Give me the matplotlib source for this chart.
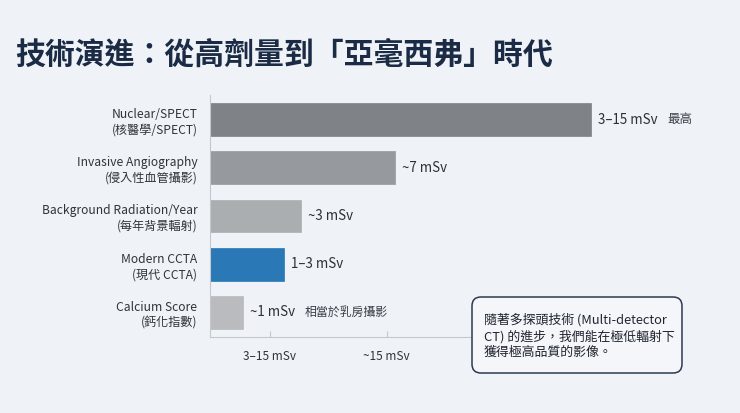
import matplotlib
matplotlib.use("Agg")
import matplotlib.pyplot as plt
from matplotlib.patches import FancyBboxPatch

plt.rcParams['font.family'] = ['Noto Sans CJK TC', 'DejaVu Sans']

# data
categories = ["Nuclear/SPECT\n(核醫學/SPECT)",
              "Invasive Angiography\n(侵入性血管攝影)",
              "Background Radiation/Year\n(每年背景輻射)",
              "Modern CCTA\n(現代 CCTA)",
              "Calcium Score\n(鈣化指數)"]
values = [15.0, 7.3, 3.6, 2.9, 1.3]
value_labels = ["3–15 mSv", "~7 mSv", "~3 mSv", "1–3 mSv", "~1 mSv"]
notes = ["最高", "", "", "", "相當於乳房攝影"]
bar_colors = ["#7f8388", "#96999d", "#abaeb1", "#2a78b5", "#b9bbbe"]
tick_pos = [2.35, 6.95]
tick_labels = ["3–15 mSv", "~15 mSv"]

bg = "#eff3f7"
navy = "#1b2b45"

fig = plt.figure(figsize=(7.4, 4.13), dpi=100, facecolor=bg)
ax = fig.add_axes([210/740, 1-337/413, 490/740, 242/413])
ax.set_facecolor(bg)

y = list(range(len(categories)))
ax.barh(y, values, height=0.68, color=bar_colors,
        edgecolor=[c for c in bar_colors], linewidth=0.5)
ax.set_ylim(4.51, -0.51)
ax.set_xlim(0, 490/25.4)

for i, (v, lab, note) in enumerate(zip(values, value_labels, notes)):
    t = ax.annotate(lab, (v, i), xytext=(5, 0), textcoords='offset points',
                    va='center', ha='left', fontsize=9.6, color="#2b2f36")
    if note:
        ax.annotate(note, xycoords=t, xy=(1, 0.5), xytext=(7, 0),
                    textcoords='offset points', va='center', ha='left',
                    fontsize=8.6 if i else 9, color="#3a3f47")

ax.set_yticks(y)
ax.set_yticklabels(categories, fontsize=8.7, color="#2f343b", linespacing=1.25)
ax.tick_params(axis='y', length=0, pad=9)
ax.set_xticks(tick_pos)
ax.set_xticklabels(tick_labels, fontsize=8.5, color="#2f343b")
ax.tick_params(axis='x', direction='in', length=4, color="#c4c8ce", pad=9)

for s in ['top', 'right']:
    ax.spines[s].set_visible(False)
ax.spines['left'].set_color("#c4c8ce")
ax.spines['bottom'].set_color("#c4c8ce")
# the axis line stops where the note box begins
ax.spines['bottom'].set_bounds(0, (472-210)/25.4)

fig.text(15/740, 1-55/413, "技術演進：從高劑量到「亞毫西弗」時代",
         fontsize=21.5, fontweight='bold', color=navy, va='center', ha='left')

# note box
box = FancyBboxPatch((472/740, 1-373/413), 210/740, 76/413,
                     boxstyle="round,pad=0,rounding_size=0.012",
                     transform=fig.transFigure, facecolor="#f4f6f9",
                     edgecolor="#2c3a52", linewidth=1.1, mutation_aspect=740/413)
fig.patches.append(box)
fig.text(484/740, 1-336/413,
         "隨著多探頭技術 (Multi-detector\nCT) 的進步，我們能在極低輻射下\n獲得極高品質的影像。",
         fontsize=9.3, color="#1f2530", va='center', ha='left', linespacing=1.3)

fig.savefig("out.png", dpi=100, facecolor=bg)
